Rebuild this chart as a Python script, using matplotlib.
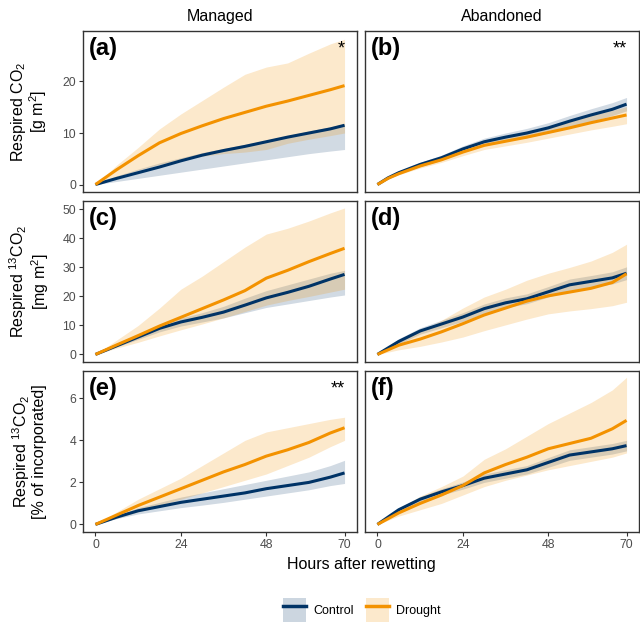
import matplotlib
matplotlib.use("Agg")
import matplotlib.pyplot as plt
from matplotlib.patches import Patch
from matplotlib.lines import Line2D

plt.rcParams['font.family'] = ['Liberation Sans', 'DejaVu Sans']
plt.rcParams['mathtext.fontset'] = 'custom'
plt.rcParams['mathtext.rm'] = 'Liberation Sans'
plt.rcParams['mathtext.it'] = 'Liberation Sans:italic'

# hours after rewetting
hours = [0, 6, 12, 18, 24, 30, 36, 42, 48, 54, 60, 66, 70]
hours_b = [0, 3, 6, 12, 18, 24, 30, 36, 42, 48, 54, 60, 66, 70]

# (a) managed, respired CO2 [g m2]
a_ctrl = [0, 1.2, 2.3, 3.4, 4.6, 5.7, 6.6, 7.4, 8.3, 9.2, 10.0, 10.8, 11.5]
a_ctrl_lo = [0, 0.6, 1.2, 1.8, 2.4, 3.0, 3.6, 4.2, 4.8, 5.4, 6.0, 6.5, 6.8]
a_ctrl_hi = [0, 1.7, 3.0, 4.2, 5.2, 6.2, 7.0, 7.8, 8.6, 9.5, 10.4, 11.2, 11.8]
a_drou = [0, 2.9, 5.6, 8.1, 9.9, 11.4, 12.8, 14.0, 15.2, 16.2, 17.3, 18.4, 19.2]
a_drou_lo = [0, 1.5, 2.8, 3.9, 4.8, 5.5, 6.0, 6.3, 6.8, 8.0, 8.8, 9.5, 10.0]
a_drou_hi = [0, 3.8, 7.2, 10.8, 13.7, 16.3, 18.9, 21.4, 22.8, 23.6, 25.5, 27.3, 28.2]

# (b) abandoned, respired CO2
b_ctrl = [0, 1.3, 2.3, 3.9, 5.2, 6.9, 8.3, 9.2, 10.0, 11.0, 12.3, 13.5, 14.6, 15.6]
b_ctrl_lo = [0, 1.1, 2.0, 3.5, 4.7, 6.3, 7.6, 8.4, 9.1, 10.0, 11.2, 12.3, 13.4, 14.3]
b_ctrl_hi = [0, 1.5, 2.6, 4.3, 5.7, 7.5, 9.0, 10.0, 10.9, 12.0, 13.4, 14.7, 15.9, 16.9]
b_drou = [0, 1.2, 2.1, 3.6, 4.8, 6.3, 7.6, 8.4, 9.2, 10.1, 11.0, 12.0, 12.9, 13.5]
b_drou_lo = [0, 1.1, 1.9, 3.2, 4.3, 5.6, 6.8, 7.5, 8.2, 9.0, 9.8, 10.6, 11.3, 11.8]
b_drou_hi = [0, 1.3, 2.3, 4.0, 5.3, 7.0, 8.4, 9.3, 10.2, 11.2, 12.2, 13.4, 14.4, 15.1]

# (c) managed, respired 13CO2 [mg m2]
c_ctrl = [0, 3.0, 6.0, 9.0, 11.2, 12.8, 14.6, 17.0, 19.5, 21.4, 23.5, 26.0, 27.6]
c_ctrl_lo = [0, 2.6, 5.2, 7.8, 9.8, 11.2, 12.6, 14.4, 16.2, 17.4, 18.6, 19.8, 20.5]
c_ctrl_hi = [0, 3.4, 6.8, 10.2, 12.6, 14.4, 16.6, 19.4, 22.0, 24.0, 26.0, 28.0, 29.0]
c_drou = [0, 3.3, 6.5, 9.8, 12.8, 15.8, 18.8, 22.0, 26.3, 29.0, 32.0, 34.8, 36.6]
c_drou_lo = [0, 2.2, 4.2, 6.4, 8.5, 10.5, 12.6, 14.8, 17.0, 18.6, 20.0, 21.5, 22.5]
c_drou_hi = [0, 5.0, 10.0, 16.0, 22.5, 27.0, 32.0, 37.0, 41.5, 43.5, 46.0, 48.8, 50.5]

# (d) abandoned, respired 13CO2
d_ctrl = [0, 4.5, 8.1, 10.5, 12.9, 15.8, 17.8, 19.2, 21.6, 24.0, 25.2, 26.4, 28.0]
d_ctrl_lo = [0, 3.6, 7.0, 9.2, 11.4, 14.2, 16.1, 17.5, 19.8, 22.0, 23.2, 24.3, 25.8]
d_ctrl_hi = [0, 5.4, 9.2, 11.8, 14.4, 17.4, 19.5, 20.9, 23.4, 26.0, 27.2, 28.5, 30.2]
d_drou = [0, 3.2, 5.3, 7.8, 10.6, 13.6, 16.0, 18.4, 20.2, 21.5, 22.8, 24.8, 27.8]
d_drou_lo = [0, 1.6, 2.8, 4.3, 6.0, 8.2, 10.2, 12.2, 14.0, 15.0, 15.8, 16.8, 18.0]
d_drou_hi = [0, 4.8, 8.0, 11.8, 16.0, 19.8, 22.5, 25.6, 28.0, 30.0, 32.2, 35.2, 38.0]

# (e) managed, respired 13CO2 [% of incorporated]
e_ctrl = [0, 0.35, 0.65, 0.85, 1.05, 1.2, 1.35, 1.5, 1.7, 1.85, 2.0, 2.25, 2.45]
e_ctrl_lo = [0, 0.28, 0.5, 0.65, 0.8, 0.92, 1.05, 1.2, 1.35, 1.5, 1.65, 1.85, 1.95]
e_ctrl_hi = [0, 0.42, 0.8, 1.05, 1.3, 1.5, 1.7, 1.9, 2.1, 2.3, 2.5, 2.8, 3.05]
e_drou = [0, 0.45, 0.9, 1.3, 1.7, 2.1, 2.5, 2.85, 3.25, 3.55, 3.9, 4.35, 4.6]
e_drou_lo = [0, 0.3, 0.6, 0.9, 1.2, 1.5, 1.8, 2.1, 2.4, 2.8, 3.2, 3.7, 4.0]
e_drou_hi = [0, 0.6, 1.2, 1.7, 2.2, 2.8, 3.4, 4.0, 4.4, 4.6, 4.8, 5.0, 5.1]

# (f) abandoned, respired 13CO2 [% of incorporated]
f_ctrl = [0, 0.7, 1.2, 1.55, 1.85, 2.2, 2.4, 2.6, 2.95, 3.3, 3.45, 3.6, 3.75]
f_ctrl_lo = [0, 0.62, 1.08, 1.4, 1.68, 2.0, 2.2, 2.4, 2.72, 3.05, 3.2, 3.35, 3.5]
f_ctrl_hi = [0, 0.78, 1.32, 1.7, 2.02, 2.4, 2.6, 2.8, 3.18, 3.55, 3.7, 3.85, 4.0]
f_drou = [0, 0.55, 1.0, 1.4, 1.85, 2.45, 2.85, 3.2, 3.6, 3.85, 4.1, 4.55, 4.95]
f_drou_lo = [0, 0.4, 0.7, 1.0, 1.4, 1.8, 2.1, 2.35, 2.6, 2.8, 3.0, 3.2, 3.4]
f_drou_hi = [0, 0.75, 1.35, 1.8, 2.3, 3.1, 3.6, 4.2, 4.8, 5.3, 5.8, 6.4, 7.0]

panels = [
    ("(a)", hours, a_ctrl, a_ctrl_lo, a_ctrl_hi, a_drou, a_drou_lo, a_drou_hi, "*"),
    ("(b)", hours_b, b_ctrl, b_ctrl_lo, b_ctrl_hi, b_drou, b_drou_lo, b_drou_hi, "**"),
    ("(c)", hours, c_ctrl, c_ctrl_lo, c_ctrl_hi, c_drou, c_drou_lo, c_drou_hi, ""),
    ("(d)", hours, d_ctrl, d_ctrl_lo, d_ctrl_hi, d_drou, d_drou_lo, d_drou_hi, ""),
    ("(e)", hours, e_ctrl, e_ctrl_lo, e_ctrl_hi, e_drou, e_drou_lo, e_drou_hi, "**"),
    ("(f)", hours, f_ctrl, f_ctrl_lo, f_ctrl_hi, f_drou, f_drou_lo, f_drou_hi, ""),
]

columns = ["Managed", "Abandoned"]
row_labels = [
    "Respired CO$_\\mathrm{2}$\n[g m$^\\mathrm{2}$]",
    "Respired $^\\mathrm{13}$CO$_\\mathrm{2}$\n[mg m$^\\mathrm{2}$]",
    "Respired $^\\mathrm{13}$CO$_\\mathrm{2}$\n[% of incorporated]",
]
row_ylim = [(-1.45, 29.8), (-2.6, 52.9), (-0.36, 7.3)]
row_yticks = [[0, 10, 20], [0, 10, 20, 30, 40, 50], [0, 2, 4, 6]]
xticks = [0, 24, 48, 70]

ctrl_col = "#003366"
drou_col = "#F39200"
ctrl_fill = "#CCD6E0"
drou_fill = "#FCE9CC"
frame_col = "#333333"
tick_col = "#4D4D4D"

W, H = 640, 623
fig = plt.figure(figsize=(6.4, 6.23), dpi=100)

col_x = [83, 365]
pw = 274
row_top = [31, 201, 371]
ph = 161

for i, (lab, x, c, clo, chi, d, dlo, dhi, star) in enumerate(panels):
    r, k = divmod(i, 2)
    ax = fig.add_axes([col_x[k] / W, 1 - (row_top[r] + ph) / H, pw / W, ph / H])
    ax.fill_between(x, clo, chi, color=ctrl_fill, lw=0, alpha=0.9)
    ax.fill_between(x, dlo, dhi, color=drou_col, lw=0, alpha=0.2)
    ax.plot(x, c, color=ctrl_col, lw=2.2, solid_capstyle='butt')
    ax.plot(x, d, color=drou_col, lw=2.2, solid_capstyle='butt')
    ax.set_xlim(-3.5, 73.5)
    ax.set_ylim(*row_ylim[r])
    ax.set_xticks(xticks)
    ax.set_yticks(row_yticks[r])
    for s in ax.spines.values():
        s.set_color(frame_col)
        s.set_linewidth(1.0)
    ax.tick_params(colors=frame_col, labelcolor=tick_col, labelsize=8.8,
                   length=3, width=0.8, pad=2)
    if r < 2:
        ax.tick_params(axis='x', bottom=False, labelbottom=False)
    if k == 1:
        ax.tick_params(axis='y', left=False, labelleft=False)
    ax.text(0.022, 0.965, lab, transform=ax.transAxes, fontsize=17,
            fontweight='bold', ha='left', va='top')
    if star:
        ax.text(0.955, 0.94, star, transform=ax.transAxes, fontsize=13,
                ha='right', va='top')
    if r == 0:
        ax.set_title(columns[k], fontsize=11.5, pad=7)

for r in range(3):
    yc = 1 - (row_top[r] + ph / 2) / H
    fig.text(29 / W, yc, row_labels[r], rotation=90, ha='center', va='center',
             fontsize=11.5, multialignment='center', linespacing=1.0)

fig.text((col_x[0] + col_x[1] + pw) / 2 / W, 1 - 564 / H, "Hours after rewetting",
         ha='center', va='center', fontsize=11.5)

handles = [
    (Patch(facecolor=ctrl_fill, edgecolor='none'), Line2D([], [], color=ctrl_col, lw=2.5)),
    (Patch(facecolor=drou_fill, edgecolor='none'), Line2D([], [], color=drou_col, lw=2.5)),
]
fig.legend(handles, ["Control", "Drought"], loc='center',
           bbox_to_anchor=(362 / W, 1 - 610 / H), ncol=2, frameon=False,
           fontsize=9, handlelength=1.8, handleheight=2.6, columnspacing=1.0,
           handletextpad=0.6)

fig.savefig("out.png", dpi=100)
